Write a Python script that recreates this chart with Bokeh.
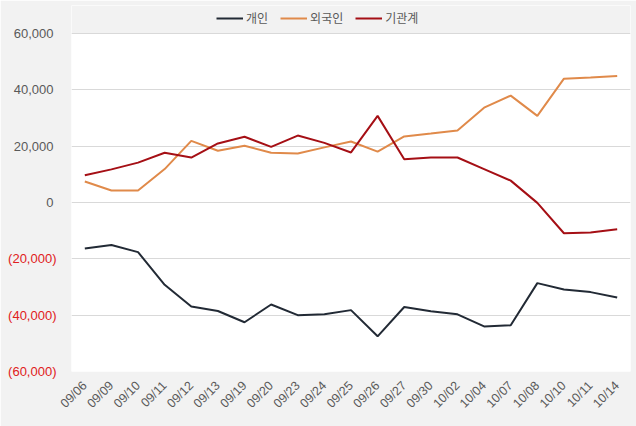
from bokeh.plotting import figure
from bokeh.models import (ColumnDataSource, FactorRange, Range1d, FixedTicker, LinearAxis,
                          Legend, LegendItem, BoxAnnotation, NumeralTickFormatter,
                          CustomJSTickFormatter)
from bokeh.embed import file_html
from bokeh.resources import INLINE
import math

dates = ["09/06", "09/09", "09/10", "09/11", "09/12", "09/13", "09/19", "09/20", "09/23",
         "09/24", "09/25", "09/26", "09/27", "09/30", "10/02", "10/04", "10/07", "10/08",
         "10/10", "10/11", "10/14"]
individual = [-16300, -15100, -17600, -29200, -36900, -38500, -42500, -36200, -40000,
              -39700, -38200, -47500, -37100, -38600, -39700, -44000, -43600, -28600,
              -30900, -31800, -33700]
foreign = [7500, 4300, 4300, 11900, 21900, 18400, 20200, 17700, 17400,
           19600, 21700, 18100, 23500, 24500, 25600, 33700, 38000, 30800,
           44000, 44400, 45000]
institution = [9700, 11800, 14200, 17700, 16000, 21000, 23400, 19800, 23800,
               21200, 17800, 30800, 15400, 16000, 16000, 11900, 7800, -100,
               -10900, -10600, -9500]
series_names = ["개인", "외국인", "기관계"]
pos_ticks = [0, 20000, 40000, 60000]
neg_ticks = [-20000, -40000, -60000]
y_min, y_max = -60000, 60000
y_view_top = 70000  # room above the plot area for the legend

colors = ["#222a35", "#e08a4a", "#a50f15"]
bg = "#f2f2f2"

p = figure(width=636, height=426, x_range=FactorRange(*dates), y_range=Range1d(y_min, y_view_top),
           output_backend="svg", toolbar_location=None,
           min_border_left=71, min_border_right=6, min_border_top=5, min_border_bottom=55)
p.background_fill_color = "white"
p.border_fill_color = bg
p.outline_line_color = None

p.add_layout(BoxAnnotation(bottom=y_max, fill_color=bg, fill_alpha=1, line_color=None, level="image"))

src = ColumnDataSource(dict(x=dates, a=individual, b=foreign, c=institution))
renderers = []
for col, c in zip(["a", "b", "c"], colors):
    r = p.line("x", col, source=src, line_color=c, line_width=2)
    renderers.append(r)

p.xgrid.grid_line_color = None
p.ygrid.ticker = FixedTicker(ticks=neg_ticks + pos_ticks)
p.ygrid.grid_line_color = "#d9d9d9"
p.ygrid.grid_line_width = 1

xa = p.xaxis[0]
xa.axis_line_color = None
xa.major_tick_line_color = None
xa.minor_tick_line_color = None
xa.major_label_orientation = math.pi / 4
xa.major_label_text_color = "#595959"
xa.major_label_text_font = "Liberation Sans"
xa.major_label_text_font_size = "12.5px"
xa.major_label_standoff = 6

ya = p.yaxis[0]
ya.ticker = FixedTicker(ticks=pos_ticks)
ya.formatter = NumeralTickFormatter(format="0,0")
ya.major_label_text_color = "#595959"
ya.major_label_standoff = 18

ya2 = LinearAxis(ticker=FixedTicker(ticks=neg_ticks),
                 formatter=CustomJSTickFormatter(code="return '(' + Math.abs(tick).toLocaleString('en-US') + ')';"))
ya2.major_label_text_color = "#e02020"
ya2.major_label_standoff = -46
p.add_layout(ya2, "left")

for ax in (ya, ya2):
    ax.axis_line_color = None
    ax.major_tick_line_color = None
    ax.minor_tick_line_color = None
    ax.major_tick_in = 0
    ax.major_tick_out = 0
    ax.major_label_text_font = "Liberation Sans"
    ax.major_label_text_font_size = "13px"

legend = Legend(items=[LegendItem(label=n, renderers=[r]) for n, r in zip(series_names, renderers)],
                orientation="horizontal", location=(145, 345))
legend.background_fill_alpha = 0
legend.border_line_color = None
legend.label_text_font = "Noto Sans CJK KR"
legend.label_text_font_size = "12px"
legend.label_text_color = "#595959"
legend.glyph_width = 27
legend.glyph_height = 16
legend.label_height = 16
legend.label_standoff = 3
legend.spacing = 12
legend.padding = 2
legend.margin = 0
p.add_layout(legend)

open("out.html", "w").write(file_html(p, INLINE))
